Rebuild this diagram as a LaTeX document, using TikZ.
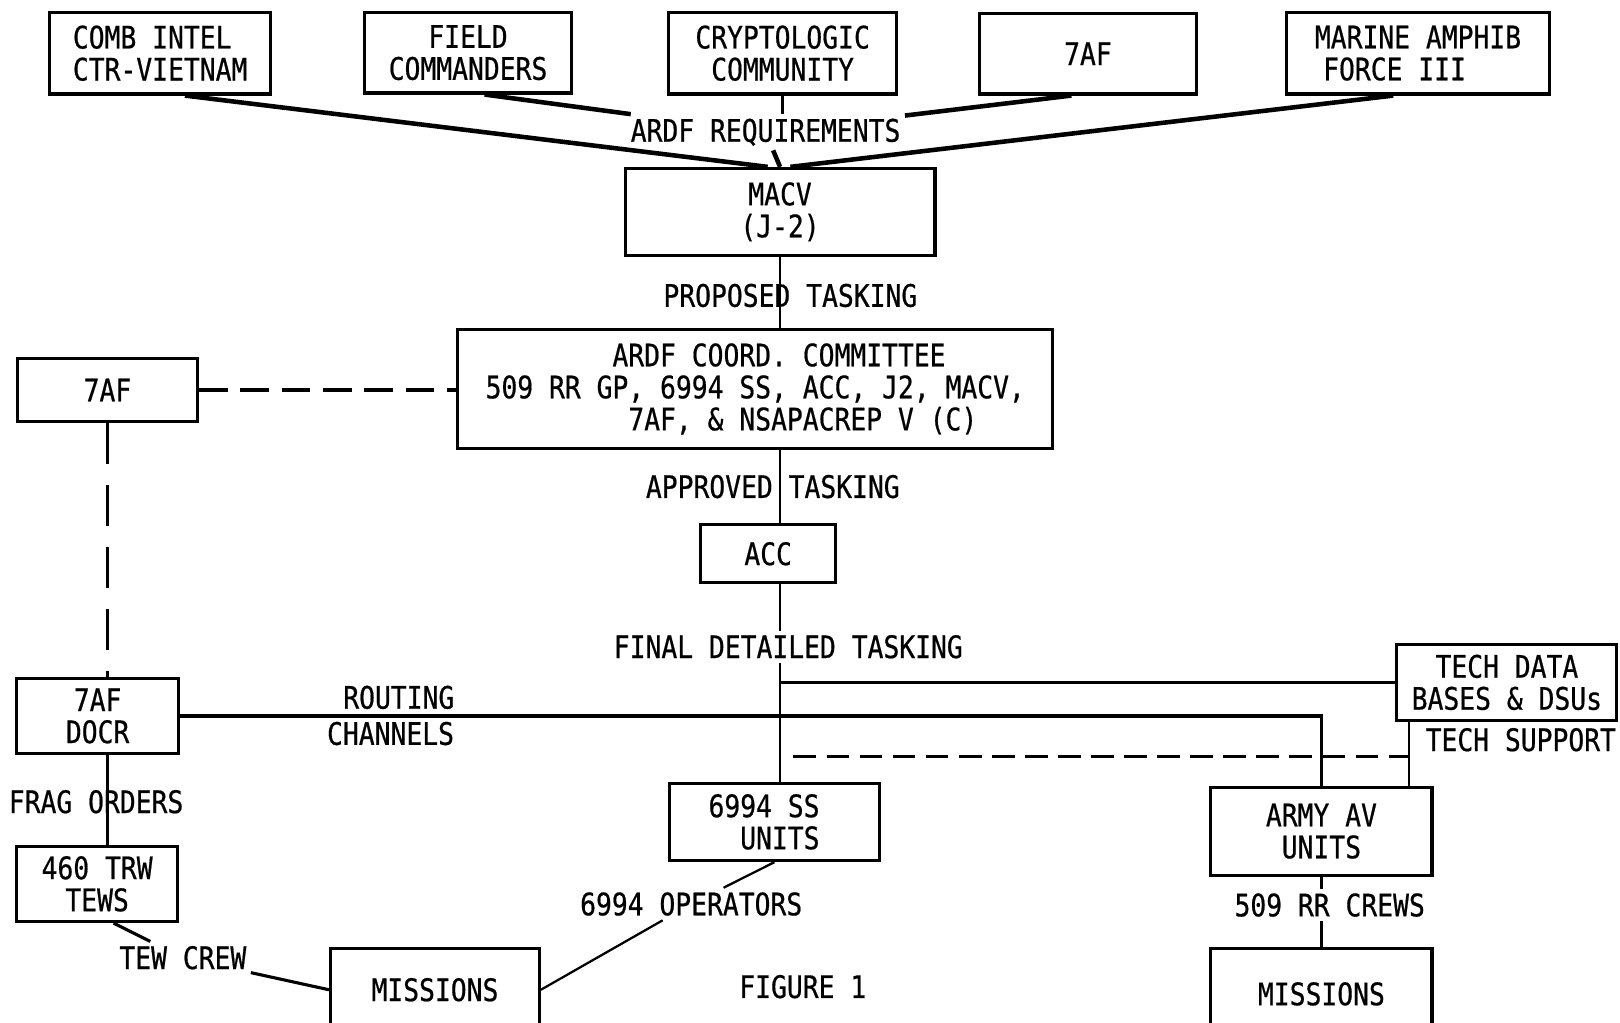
\documentclass[tikz,border=0pt]{standalone}
\usepackage{fontspec}
\newfontfamily\tw[FakeStretch=0.85,FakeBold=0.6]{DejaVu Sans Mono}
\usetikzlibrary{calc}
\begin{document}
\begin{tikzpicture}[x=0.5pt,y=-0.5pt,
  font=\tw\fontsize{15}{15.5}\selectfont,
  box/.style={draw, line width=1.5pt, inner sep=0pt, align=center},
  lab/.style={inner sep=1pt},
  labw/.style={fill=white, inner sep=2pt},
  conv/.style={line width=2.2pt},
  link/.style={line width=1.1pt},
  heavy/.style={line width=1.5pt},
  dsh/.style={line width=1.5pt, dash pattern=on 14pt off 6pt},
  dshv/.style={line width=1.3pt, dash pattern=on 20pt off 10pt},
  dshs/.style={line width=1.6pt, dash pattern=on 11pt off 5pt}]
\useasboundingbox (0,0) rectangle (1568,990);
\clip (0,0) rectangle (1568,990);

% top row
\node[box, align=left, minimum width=107pt, minimum height=39.5pt] (comb) at (155,51.5) {COMB INTEL\\CTR-VIETNAM};
\node[box, minimum width=100pt, minimum height=39pt] (field) at (453,51) {FIELD\\COMMANDERS};
\node[box, minimum width=110.5pt, minimum height=39.5pt] (crypto) at (757.5,51.5) {CRYPTOLOGIC\\COMMUNITY};
\node[box, minimum width=105pt, minimum height=39pt] (sevenaf) at (1053,52) {7AF};
\node[box, align=left, minimum width=127.5pt, minimum height=39.5pt] (marine) at (1372.5,51.5) {MARINE AMPHIB\\\hspace*{4pt}FORCE III};

\node[box, minimum width=150pt, minimum height=42pt] (macv) at (755,205) {MACV\\(J-2)};
\node[labw] (ardf) at (741,128) {ARDF REQUIREMENTS};

\draw[conv] ([xshift=12pt]comb.south) -- ([xshift=-6pt]macv.north);
\draw[conv] ([xshift=8pt]field.south) -- (ardf);
\draw[link] (crypto.south) -- (crypto.south |- ardf.north);
\draw[conv] ([xshift=-8pt]sevenaf.south) -- (ardf);
\draw[conv] ([xshift=-12pt]marine.south) -- ([xshift=5pt]macv.north);
\draw[conv] (ardf) -- (macv.north);

% committee
\node[box, align=left, minimum width=288pt, minimum height=57.5pt] (committee) at (731,376.5)
  {\phantom{00000000}ARDF COORD. COMMITTEE\\509 RR GP, 6994 SS, ACC, J2, MACV,\\\phantom{000000000}7AF, \& NSAPACREP V (C)};
\draw[link] (macv.south) -- (macv.south |- committee.north);
\node[lab] at (765,286) {PROPOSED TASKING};

\node[box, minimum width=87pt, minimum height=30.5pt] (left7af) at (104,377.5) {7AF};
\draw[dsh] (left7af.east) -- (left7af.east -| committee.west);

\node[box, minimum width=65.5pt, minimum height=28pt] (acc) at (743.5,536) {ACC};
\draw[link] (macv.south |- committee.south) -- (macv.south |- acc.north);
\node[lab] at (748,471) {APPROVED TASKING};

\node[box, minimum width=106.5pt, minimum height=36.5pt] (tech) at (1458.5,660.5) {TECH DATA\\BASES \& DSUs};
\node[box, minimum width=78.5pt, minimum height=36pt] (docr) at (94.5,693) {7AF\\DOCR};
\node[box, minimum width=78pt, minimum height=36.5pt] (trw) at (94,855.5) {460 TRW\\TEWS};
\node[box, align=right, minimum width=101.5pt, minimum height=37.5pt] (ss) at (749.5,795.5) {6994 SS\hspace*{10pt}\\UNITS\hspace*{10pt}};
\node[box, minimum width=107pt, minimum height=42.5pt] (army) at (1279,804.5) {ARMY AV\\UNITS};
\node[box, minimum width=101pt, minimum height=40pt] (missL) at (421,958) {MISSIONS};
\node[box, minimum width=107pt, minimum height=44pt] (missR) at (1279,962) {MISSIONS};

% tasking trunk
\draw[link] (macv.south |- acc.south) -- (macv.south |- ss.north);
\node[labw] at (763,626) {FINAL DETAILED TASKING};
\draw[heavy] (tech.west) -- (tech.west -| macv.south);

% routing channels
\draw[heavy] (docr.east) -- (docr.east -| army.north) -- (army.north);
\node[lab] at (386,675) {ROUTING};
\node[lab] at (378,710) {CHANNELS};

% tech support
\coordinate (ts) at ([xshift=6.5pt]tech.south west);
\draw[link] (ts) -- (ts |- army.north);
\coordinate (dsl) at (768,732);
\draw[dshs] (dsl) -- (dsl -| ts);
\node[lab] at (1472,716) {TECH SUPPORT};

% left column
\draw[dshv] (left7af.south) -- (left7af.south |- docr.north);
\draw[link] (left7af.south |- docr.south) -- (left7af.south |- trw.north);
\node[lab] at (93,776) {FRAG ORDERS};

\node[labw] (tew) at (177,927) {TEW CREW};
\draw[heavy] ([xshift=8pt]trw.south) -- (tew) -- (missL.west);

\node[labw] (ops) at (669,875) {6994 OPERATORS};
\draw[link] (ss.south) -- (ops) -- (missL.east);

\draw[link] (army.south) -- (army.south |- missR.north);
\node[labw] at (1287,876) {509 RR CREWS};

\node[lab] (fig) at (777,955) {FIGURE 1};
\end{tikzpicture}
\end{document}
